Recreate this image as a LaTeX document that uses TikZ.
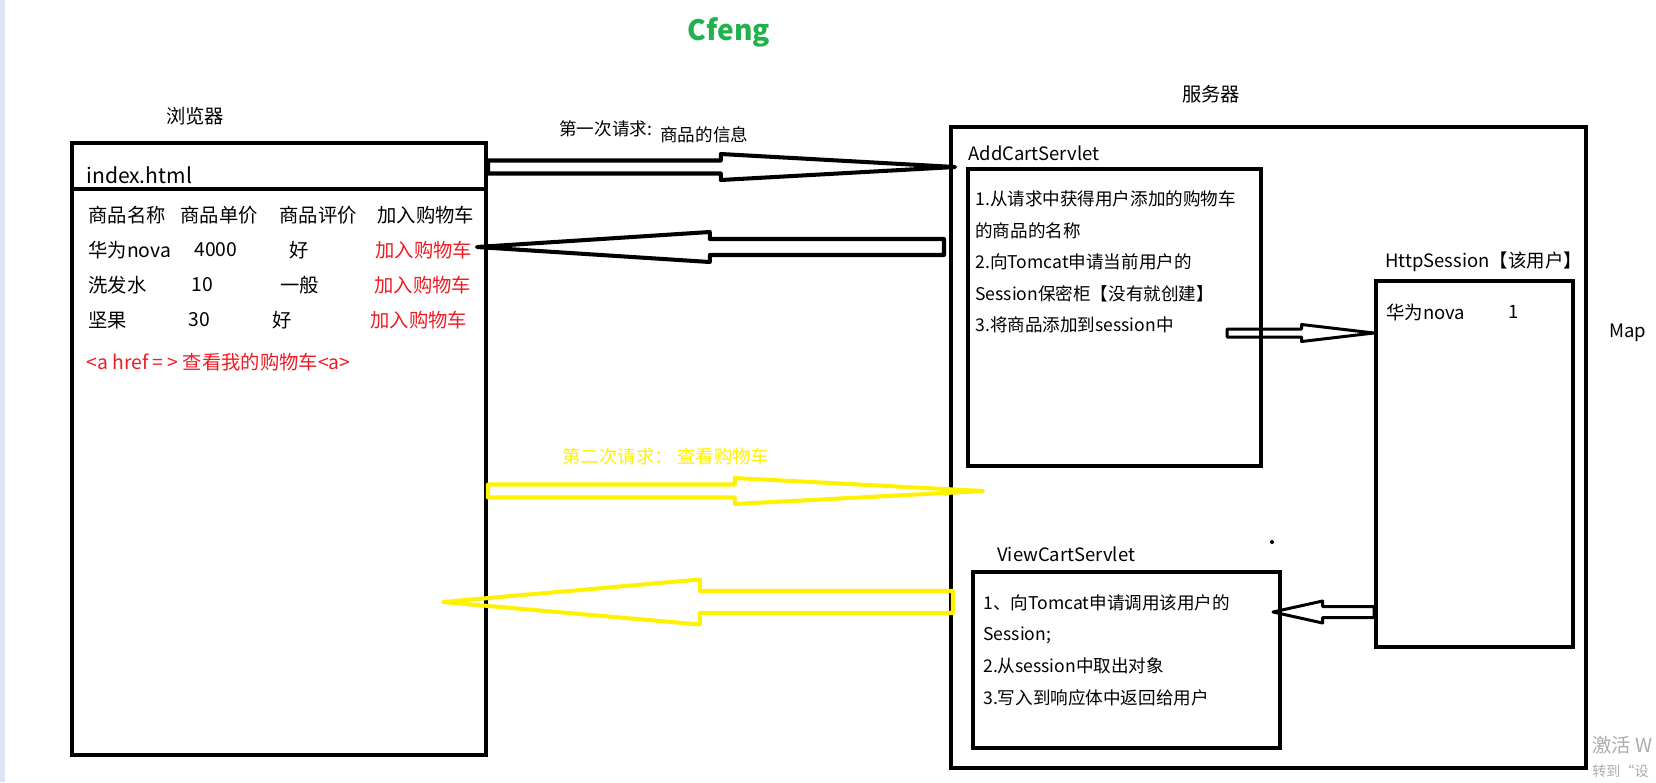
\documentclass[tikz,border=0pt]{standalone}
\usepackage{fontspec}
\setmainfont{Noto Sans CJK SC}
\usepackage{tikz}
\usetikzlibrary{calc, positioning}

\definecolor{paintred}{HTML}{ED1C24}
\definecolor{paintyellow}{HTML}{FFF200}
\definecolor{paintgreen}{HTML}{22B14C}
\definecolor{stripblue}{HTML}{DDE4F2}
\definecolor{wmgray}{HTML}{ABABAB}

% hollow block arrow: [style]{tail}{tip}{head base x}{shaft half}{head half}, sizes in px
\newcommand{\fatarrow}[6][]{%
  \draw[#1] let \p1=(#2), \p2=(#3) in
    (\x1,\y2+#5*0.569pt) -- (#4*0.569pt,\y2+#5*0.569pt) -- (#4*0.569pt,\y2+#6*0.569pt) -- (\p2)
    -- (#4*0.569pt,\y2-#6*0.569pt) -- (#4*0.569pt,\y2-#5*0.569pt) -- (\x1,\y2-#5*0.569pt) -- cycle;}

\begin{document}
\begin{tikzpicture}[
  x=0.02cm, y=-0.02cm,
  every node/.style={font=\fontsize{11}{13}\selectfont, inner sep=0pt},
  box/.style={draw, line width=2.3pt, inner sep=0pt},
  txt/.style={anchor=west},
  buy/.style={anchor=west, text=paintred},
  steps/.style={anchor=west, align=left, font=\fontsize{10}{18}\selectfont},
  label/.style={anchor=west, font=\fontsize{10.5}{13}\selectfont},
  bigarrow/.style={line width=2.3pt, line join=round},
  thinarrow/.style={line width=1.7pt, line join=round}
]
\useasboundingbox (0,0) rectangle (1656,782);
\fill[stripblue] (0,0) rectangle (5,782);

\node[font=\bfseries\fontsize{16}{18}\selectfont, text=paintgreen] (author) at (729,32) {Cfeng};

% browser side
\node (browsertitle) at (195,116) {浏览器};
\node[box, minimum width=8.28cm, minimum height=12.24cm] (browser) at (279,449) {};
\draw[box] (browser.west |- 0,189) -- (browser.east |- 0,189);
\node[txt, font=\fontsize{12}{14}\selectfont] (index) at (86,175) {index.html};

\node[txt] (hname) at (88,215) {商品名称};
\node[txt] (hprice) at (180,215) {商品单价};
\node[txt] (hrate) at (279,215) {商品评价};
\node[txt] (hbuy) at (377,215) {加入购物车};

\node[txt] (name1) at (88,250) {华为nova};
\node[txt] (price1) at (194,250) {4000};
\node[txt] (rate1) at (289,250) {好};
\node[buy] (buy1) at (375,250) {加入购物车};

\node[txt] (name2) at (88,285) {洗发水};
\node[txt] (price2) at (191,285) {10};
\node[txt] (rate2) at (280,285) {一般};
\node[buy] (buy2) at (374,285) {加入购物车};

\node[txt] (name3) at (88,320) {坚果};
\node[txt] (price3) at (188,320) {30};
\node[txt] (rate3) at (272,320) {好};
\node[buy] (buy3) at (370,320) {加入购物车};

\node[buy] (cartlink) at (86,362) {<a href = > 查看我的购物车<a>};

% server side
\node (servertitle) at (1211,94) {服务器};
\node[box, minimum width=12.7cm, minimum height=12.82cm] (server) at (1268.5,447.5) {};

\node[box, minimum width=5.86cm, minimum height=5.94cm] (addcart) at (1114.5,317.5) {};
\node[label] (addcartname) at (968,153) {AddCartServlet};
\node[steps] (addsteps) at (975,262) {1.从请求中获得用户添加的购物车\\的商品的名称\\2.向Tomcat申请当前用户的\\Session保密柜【没有就创建】\\3.将商品添加到session中};

\node[box, minimum width=3.94cm, minimum height=7.32cm] (session) at (1474.5,464) {};
\node[label] (sessionname) at (1385,262) {HttpSession【该用户】};
\node[label] (item) at (1386,312) {华为nova};
\node[label] (count) at (1508,312) {1};
\node[label] (map) at (1609,333) {Map};

\node[box, minimum width=6.14cm, minimum height=3.52cm] (viewcart) at (1126.5,660) {};
\node[label] (viewcartname) at (997,554) {ViewCartServlet};
\node[steps] (viewsteps) at (983,650) {1、向Tomcat申请调用该用户的\\Session;\\2.从session中取出对象\\3.写入到响应体中返回给用户};

\fill (1272,542) circle (2);

% request labels
\node[label, font=\fontsize{10}{12}\selectfont] (req1label) at (559,129) {第一次请求:};
\node[label, font=\fontsize{10}{12}\selectfont] (infolabel) at (660,135) {商品的信息};
\node[label, text=paintyellow] (req2label) at (562,456) {第二次请求： 查看购物车};

% arrow ends
\coordinate (req1 tail) at (browser.east |- 0,167);
\coordinate (req1 tip) at (955,167);
\coordinate (resp1 tail) at (944,247);
\coordinate (resp1 tip) at (477,247);
\coordinate (req2 tail) at (browser.east |- 0,491);
\coordinate (req2 tip) at (983,491);
\coordinate (resp2 tail) at (953,602);
\coordinate (resp2 tip) at (443,602);
\coordinate (put tail) at (1227,333);
\coordinate (put tip) at (session.west |- 0,333);
\coordinate (get tail) at (session.west |- 0,612);
\coordinate (get tip) at (1273,612);

\fatarrow[bigarrow]{req1 tail}{req1 tip}{721}{6.5}{13}
\fatarrow[bigarrow]{resp1 tail}{resp1 tip}{710}{8}{15}
\fatarrow[bigarrow, paintyellow]{req2 tail}{req2 tip}{735}{6.5}{13}
\fatarrow[bigarrow, paintyellow]{resp2 tail}{resp2 tip}{700}{11}{22.5}
\fatarrow[thinarrow]{put tail}{put tip}{1302}{4}{8.5}
\fatarrow[thinarrow]{get tail}{get tip}{1323}{5.5}{11}

% watermark
\node[txt, text=wmgray, font=\fontsize{11}{13}\selectfont] (wm1) at (1592,745) {激活 W};
\node[txt, text=wmgray, font=\fontsize{8}{10}\selectfont] (wm2) at (1592,771) {转到“设};
\end{tikzpicture}
\end{document}
